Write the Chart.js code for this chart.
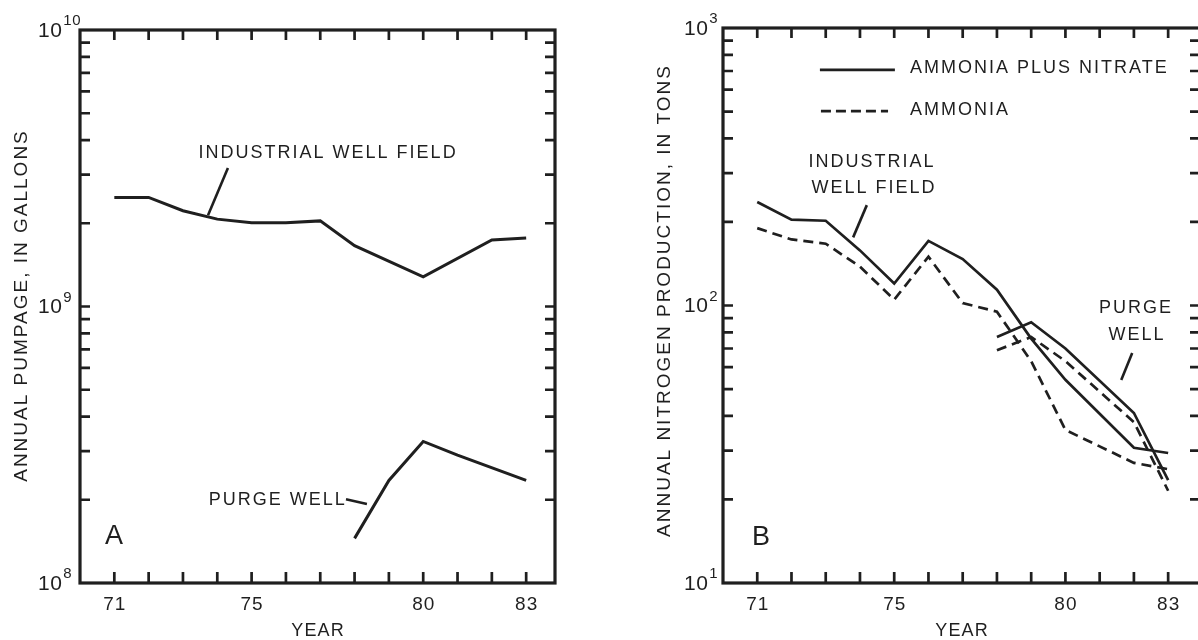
<!DOCTYPE html>
<html><head><meta charset="utf-8">
<script src="https://cdn.jsdelivr.net/npm/chart.js@4.4.1/dist/chart.umd.min.js"></script>
<style>
html,body{margin:0;padding:0;background:#fff;overflow:hidden;width:1198px;height:640px;}
#wrapA{position:absolute;left:0;top:0;width:600px;height:640px;}
#wrapB{position:absolute;left:600px;top:0;width:606px;height:640px;}
canvas{display:block;}
</style></head><body>
<div id="wrapA"><canvas id="chartA" width="600" height="640" style="width:600px;height:640px"></canvas></div>
<div id="wrapB"><canvas id="chartB" width="606" height="640" style="width:606px;height:640px"></canvas></div>
<script>
// ---------- Panel A: annual pumpage (gallons) ----------
const yearsIndustrialA = [71, 72, 73, 74, 75, 76, 77, 78, 80, 82, 83];
const pumpageIndustrial = [2.48e9, 2.48e9, 2.22e9, 2.07e9, 2.01e9, 2.01e9, 2.04e9, 1.66e9, 1.28e9, 1.74e9, 1.77e9];
const yearsPurgeA = [78, 79, 80, 81, 83];
const pumpagePurge = [1.45e8, 2.35e8, 3.25e8, 2.9e8, 2.35e8];

// ---------- Panel B: annual nitrogen production (tons) ----------
const yearsIndustrialTotalB = [71, 72, 73, 74, 75, 76, 77, 78, 79, 80, 82, 83];
const industrialAmmoniaPlusNitrate = [236, 204, 202, 158, 120, 171, 147, 114, 76, 54, 30.7, 29.4];
const yearsIndustrialAmmoniaB = [71, 72, 73, 74, 75, 76, 77, 78, 79, 80, 82, 83];
const industrialAmmonia = [190, 173, 167, 138, 105, 150, 102, 95, 63, 35.6, 27.1, 25.7];
const yearsPurgeB = [78, 79, 80, 82, 83];
const purgeAmmoniaPlusNitrate = [77, 87, 70, 41, 23.5];
const purgeAmmonia = [69, 77, 63, 38, 21.5];

// ---------- tick labels ----------
const xTickYears = [71, 75, 80, 83];
const xTickLabels = ['71', '75', '80', '83'];
const yTickExponentsA = [8, 9, 10];
const yTickExponentsB = [1, 2, 3];

const INK = '#1f1f1f';
const FONT = '"Liberation Sans", Arial, sans-serif';

function pts(xs, ys) { return xs.map((v, i) => ({ x: v, y: ys[i] })); }

function drawText(ctx, s, x, y, size, align, spacing) {
  ctx.font = size + 'px ' + FONT;
  ctx.letterSpacing = (spacing || 0) + 'px';
  ctx.textAlign = align;
  ctx.textBaseline = 'middle';
  let dx = 0;
  if (align === 'center' && spacing) dx = spacing / 2;
  ctx.fillText(s, x + dx, y);
}

const decoPlugin = {
  id: 'deco',
  afterDraw(chart, args, o) {
    const { ctx, chartArea: a, scales: { x, y } } = chart;
    ctx.save();
    ctx.strokeStyle = INK; ctx.fillStyle = INK;
    // tick marks (inward, mirrored)
    ctx.lineWidth = 2.7; ctx.lineCap = 'butt';
    ctx.beginPath();
    for (let yr = Math.ceil(x.min); yr <= Math.floor(x.max); yr++) {
      if (yr <= x.min || yr >= x.max) continue;
      const px = x.getPixelForValue(yr);
      ctx.moveTo(px, a.bottom); ctx.lineTo(px, a.bottom - 11);
      ctx.moveTo(px, a.top); ctx.lineTo(px, a.top + 10);
    }
    const e0 = Math.round(Math.log10(y.min)), e1 = Math.round(Math.log10(y.max));
    for (let e = e0; e < e1; e++) {
      for (let m = 1; m < 10; m++) {
        if (e === e0 && m === 1) continue;
        const py = y.getPixelForValue(m * Math.pow(10, e));
        ctx.moveTo(a.left, py); ctx.lineTo(a.left + 10, py);
        ctx.moveTo(a.right, py); ctx.lineTo(a.right - 10, py);
      }
    }
    ctx.stroke();
    // frame
    ctx.lineWidth = 3.2;
    ctx.strokeRect(a.left, a.top, a.right - a.left, a.bottom - a.top);

    // y tick labels 10^n
    o.yExps.forEach(e => {
      const py = y.getPixelForValue(Math.pow(10, e));
      const bx = a.left - o.yLabelOffset;
      drawText(ctx, '10', bx, py + 1, 21, 'left', 0.5);
      const w = ctx.measureText('10').width;
      drawText(ctx, String(e), bx + w + 1, py - 9, 15, 'left', 0.5);
    });
    // x tick labels
    xTickYears.forEach((yr, i) => {
      drawText(ctx, xTickLabels[i], x.getPixelForValue(yr), a.bottom + 22, 19, 'center', 1);
    });
    // axis titles
    drawText(ctx, 'YEAR', (a.left + a.right) / 2, a.bottom + 48, 18, 'center', 1.2);
    ctx.save();
    ctx.translate(a.left - o.yTitleOffset, (a.top + a.bottom) / 2 + o.yTitleShift);
    ctx.rotate(-Math.PI / 2);
    drawText(ctx, o.yTitle, 0, 0, 19, 'center', 2);
    ctx.restore();

    // annotations (positioned in data units)
    (o.texts || []).forEach(t => {
      drawText(ctx, t.s, x.getPixelForValue(t.x), y.getPixelForValue(t.y), t.size || 18, t.align || 'center', t.sp === undefined ? 2 : t.sp);
    });
    (o.leaders || []).forEach(l => {
      ctx.lineWidth = l.w || 2.6;
      ctx.setLineDash(l.dash || []);
      ctx.beginPath();
      ctx.moveTo(x.getPixelForValue(l.x1), y.getPixelForValue(l.y1));
      ctx.lineTo(x.getPixelForValue(l.x2), y.getPixelForValue(l.y2));
      ctx.stroke();
    });
    ctx.setLineDash([]);
    ctx.restore();
  }
};

function lineDS(label, data, width, dash) {
  return {
    label, data, showLine: true, fill: false, tension: 0,
    borderColor: INK, borderWidth: width, borderDash: dash || [],
    pointRadius: 0, pointHoverRadius: 0
  };
}

function makeOptions(pad, xmax, ymin, ymax, deco) {
  return {
    responsive: false, animation: false, devicePixelRatio: 1,
    layout: { padding: pad },
    plugins: { legend: { display: false }, tooltip: { enabled: false }, deco },
    scales: {
      x: { type: 'linear', min: 70, max: xmax, display: false },
      y: { type: 'logarithmic', min: ymin, max: ymax, display: false }
    }
  };
}

new Chart(document.getElementById('chartA'), {
  type: 'scatter',
  data: {
    datasets: [
      lineDS('Industrial well field', pts(yearsIndustrialA, pumpageIndustrial), 3),
      lineDS('Purge well', pts(yearsPurgeA, pumpagePurge), 3)
    ]
  },
  options: makeOptions({ left: 80, top: 30, right: 45, bottom: 57 }, 83.84, 1e8, 1e10, {
    yExps: yTickExponentsA, yLabelOffset: 42, yTitleOffset: 58, yTitleShift: 0,
    yTitle: 'ANNUAL PUMPAGE, IN GALLONS',
    texts: [
      { s: 'INDUSTRIAL WELL FIELD', x: 77.2, y: 3.6e9 },
      { s: 'PURGE WELL', x: 75.73, y: 2.0e8 },
      { s: 'A', x: 70.99, y: 1.47e8, size: 27, sp: 0 }
    ],
    leaders: [
      { x1: 74.31, y1: 3.17e9, x2: 73.73, y2: 2.14e9 },
      { x1: 77.75, y1: 2.01e8, x2: 78.36, y2: 1.93e8 }
    ]
  }),
  plugins: [decoPlugin]
});

new Chart(document.getElementById('chartB'), {
  type: 'scatter',
  data: {
    datasets: [
      lineDS('Industrial ammonia plus nitrate', pts(yearsIndustrialTotalB, industrialAmmoniaPlusNitrate), 2.7),
      lineDS('Industrial ammonia', pts(yearsIndustrialAmmoniaB, industrialAmmonia), 2.7, [10, 6]),
      lineDS('Purge ammonia plus nitrate', pts(yearsPurgeB, purgeAmmoniaPlusNitrate), 2.7),
      lineDS('Purge ammonia', pts(yearsPurgeB, purgeAmmonia), 2.7, [10, 6])
    ]
  },
  options: makeOptions({ left: 123, top: 28, right: 6, bottom: 57 }, 83.93, 10, 1000, {
    yExps: yTickExponentsB, yLabelOffset: 39, yTitleOffset: 58, yTitleShift: -4,
    yTitle: 'ANNUAL NITROGEN PRODUCTION, IN TONS',
    texts: [
      { s: 'AMMONIA PLUS NITRATE', x: 75.46, y: 718, align: 'left' },
      { s: 'AMMONIA', x: 75.46, y: 506, align: 'left' },
      { s: 'INDUSTRIAL', x: 74.32, y: 329 },
      { s: 'WELL FIELD', x: 74.38, y: 265 },
      { s: 'PURGE', x: 82.03, y: 98 },
      { s: 'WELL', x: 82.06, y: 78.3 },
      { s: 'B', x: 71.11, y: 14.6, size: 27, sp: 0 }
    ],
    leaders: [
      { x1: 72.83, y1: 706, x2: 75.02, y2: 706, w: 2.7 },
      { x1: 72.86, y1: 502, x2: 74.82, y2: 502, w: 2.7, dash: [10, 5] },
      { x1: 74.2, y1: 230, x2: 73.8, y2: 176 },
      { x1: 81.95, y1: 67.4, x2: 81.63, y2: 53.9 }
    ]
  }),
  plugins: [decoPlugin]
});
</script>
</body></html>
